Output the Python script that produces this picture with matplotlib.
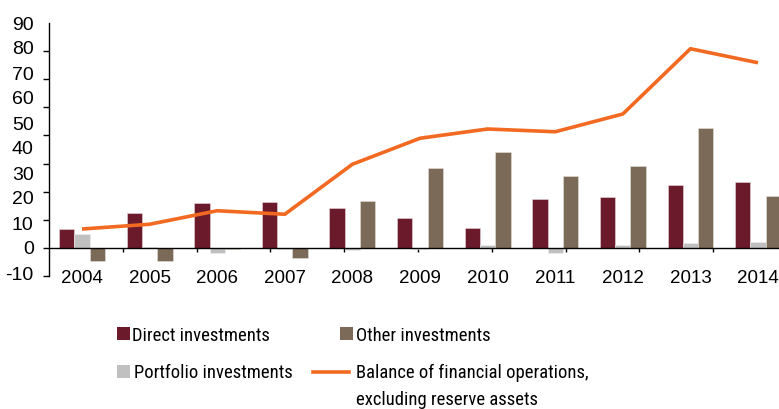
import numpy as np
import matplotlib
matplotlib.use("Agg")
import matplotlib.pyplot as plt
from matplotlib import font_manager
from matplotlib.patches import Rectangle
from matplotlib.lines import Line2D

# ---- data ----
years = ["2004", "2005", "2006", "2007", "2008", "2009", "2010", "2011", "2012", "2013", "2014"]
direct = [7.7, 14.0, 17.9, 18.4, 15.9, 12.1, 8.2, 19.8, 20.3, 25.1, 26.5]
portfolio = [5.5, 0.3, -2.1, -0.3, -0.9, -0.3, 1.1, -2.0, 1.1, 2.0, 2.6]
other = [-5.1, -5.1, -0.4, -3.9, 18.9, 32.1, 38.4, 29.0, 32.8, 48.1, 20.7]
balance = [7.6, 9.5, 14.9, 13.5, 33.5, 43.9, 47.6, 46.5, 53.6, 79.7, 74.1]
ytick_values = [90, 80, 70, 60, 50, 40, 30, 20, 10, 0, -10]
legend_labels = ["Direct investments", "Other investments", "Portfolio investments",
                 "Balance of financial operations,\nexcluding reserve assets"]

# ---- styles ----
C_DIRECT = "#6A1A2B"
C_OTHER = "#7B6A57"
C_PORT = "#C0C0C0"
C_LINE = "#F26A21"

fl = font_manager.fontManager.ttflist
names = {f.name for f in fl}
TICK_FONT = "Liberation Sans" if "Liberation Sans" in names else "DejaVu Sans"

leg_font = None
for cand in ["Liberation Sans Narrow", "Roboto Condensed", "Open Sans Condensed",
             "Noto Sans Condensed", "DejaVu Sans Condensed", "Arial Narrow"]:
    if cand in names:
        leg_font = cand
        break
if leg_font is None:
    cond = [f for f in fl if (str(f.stretch).endswith("condensed") or "Cond" in f.fname or "Narrow" in f.fname)
            and f.style == "normal" and "Bold" not in f.fname and "Light" not in f.fname
            and "Thin" not in f.fname and "Mono" not in f.fname and "Serif" not in f.fname]
    if cond:
        leg_font = font_manager.FontProperties(fname=cond[0].fname)
LEG_SIZE = 13.4
if leg_font is None:
    leg_font = TICK_FONT
    LEG_SIZE = 12

plt.rcParams["font.family"] = [TICK_FONT, "DejaVu Sans"]

W, H = 779, 409
fig = plt.figure(figsize=(W / 100, H / 100), dpi=100)
ax = fig.add_axes([49 / W, (H - 276) / H, 730 / W, 253 / H])

x = np.arange(len(years))
bw = 0.226
ax.bar(x - bw, direct, bw, color=C_DIRECT, edgecolor="#e9d9dc", linewidth=0.4, zorder=2)
ax.bar(x, portfolio, bw, color=C_PORT, edgecolor="#eeeeee", linewidth=0.4, zorder=2)
ax.bar(x + bw, other, bw, color=C_OTHER, edgecolor="#e6e0da", linewidth=0.4, zorder=2)
ax.plot(x, balance, color=C_LINE, linewidth=2.6, zorder=3, solid_capstyle="butt")

xlim0, xlim1 = -0.488, 10.31
ax.set_xlim(xlim0, xlim1)
ymin, ymax = -11.2, 90
ax.set_ylim(ymin, ymax)

for s in ["top", "right"]:
    ax.spines[s].set_visible(False)
ax.spines["bottom"].set_position(("data", 0))
ax.spines["bottom"].set_linewidth(1.0)
ax.spines["left"].set_linewidth(1.0)
ax.spines["bottom"].set_zorder(4)

# labels (major ticks, no marks)
ax.set_xticks(x)
ax.set_xticklabels(years, fontsize=13.5)
ax.tick_params(axis="x", which="major", length=0, pad=16)
ax.set_yticks(ytick_values)
ax.set_yticklabels([str(v) for v in ytick_values], fontsize=14)
ax.tick_params(axis="y", which="major", length=0, pad=11)

# tick marks (minor ticks)
xstep = (xlim1 - xlim0) * 73.8 / 730
ax.set_xticks([xlim0 + k * xstep for k in range(1, 10)], minor=True)
ax.set_yticks(np.linspace(ymin, ymax, 10), minor=True)
ax.tick_params(axis="x", which="minor", length=3, width=1.0, direction="out")
ax.tick_params(axis="y", which="minor", length=4, width=1.0, direction="out")

# ---- legend (figure pixel coordinates) ----
def fx(px):
    return px / W

def fy(py):
    return 1 - py / H

def square(x0, y0, color):
    fig.add_artist(Rectangle((fx(x0), fy(y0 + 13)), 13 / W, 13 / H, transform=fig.transFigure,
                             facecolor=color, edgecolor="none"))

square(117, 327, C_DIRECT)
square(340, 327, C_OTHER)
square(117, 365, C_PORT)
fig.add_artist(Line2D([fx(313), fx(349)], [fy(372), fy(372)], transform=fig.transFigure,
                      color=C_LINE, linewidth=2.6))
if isinstance(leg_font, str):
    lkw = dict(fontsize=LEG_SIZE, family=[leg_font, "DejaVu Sans"], va="baseline", ha="left")
else:
    fp = leg_font.copy()
    fp.set_size(LEG_SIZE)
    lkw = dict(fontproperties=fp, va="baseline", ha="left")
fig.text(fx(132), fy(341), legend_labels[0], **lkw)
fig.text(fx(356), fy(341), legend_labels[1], **lkw)
fig.text(fx(134), fy(378), legend_labels[2], **lkw)
l1, l2 = legend_labels[3].split("\n")
fig.text(fx(356), fy(378), l1, **lkw)
fig.text(fx(356), fy(405), l2, **lkw)

fig.savefig("out.png", dpi=100)
